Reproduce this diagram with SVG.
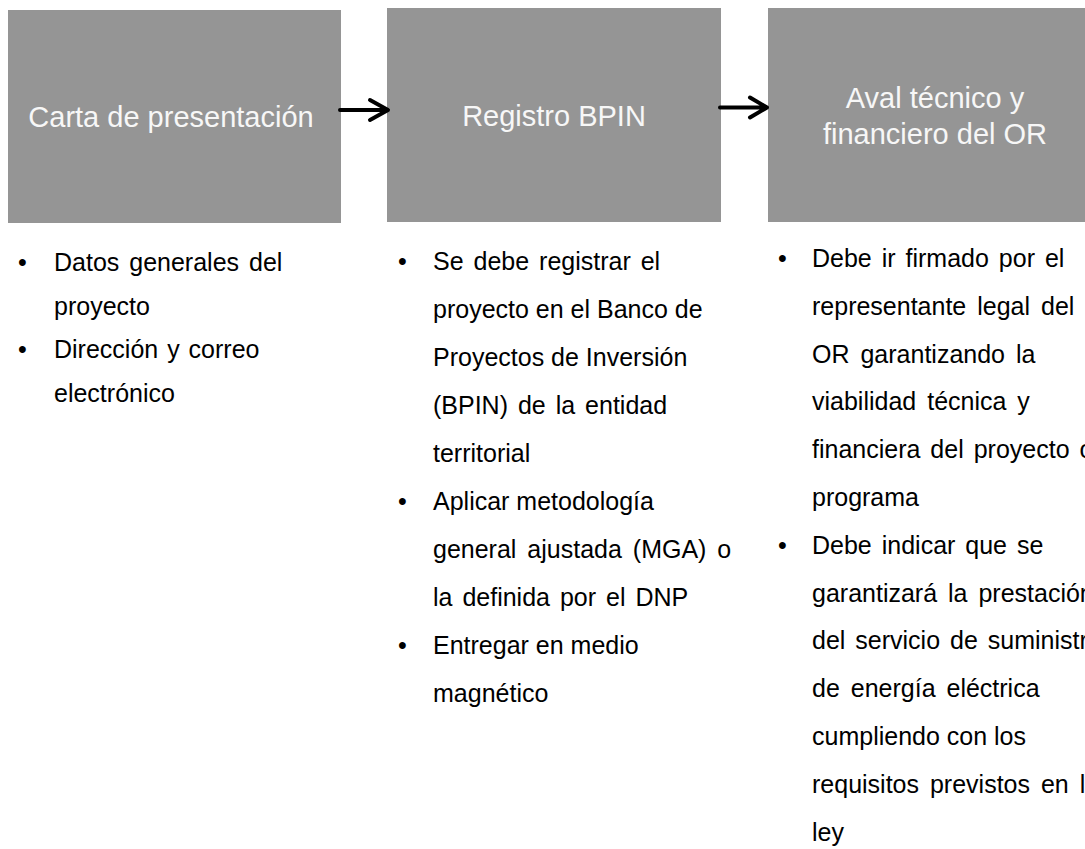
<svg xmlns="http://www.w3.org/2000/svg" width="1085" height="849" viewBox="0 0 1085 849">
<style>
.box{fill:#959595}
.bt{font-family:"Liberation Sans",Arial,sans-serif;font-size:29px;fill:#f7f7f7;text-anchor:middle}
.tx{font-family:"Liberation Sans",Arial,sans-serif;fill:#000}
.c1{font-size:25px}
.c2{font-size:25px}
.c3{font-size:25px}
.arr{stroke:#000;stroke-width:4;fill:none;stroke-linecap:round;stroke-linejoin:round}
</style>
<rect width="1085" height="849" fill="#fff"/>
<g id="node-carta">
<rect class="box" x="8" y="10" width="333" height="213"/>
<text class="bt" x="171" y="127">Carta de presentación</text>
</g>
<g id="node-bpin">
<rect class="box" x="387" y="8" width="334" height="214"/>
<text class="bt" x="554" y="126">Registro BPIN</text>
</g>
<g id="node-aval">
<rect class="box" x="768" y="8" width="334" height="214"/>
<text class="bt" x="935" y="108">Aval técnico y</text>
<text class="bt" x="935" y="144">financiero del OR</text>
</g>
<g id="connectors">
<path class="arr" d="M340 110 H387 M370 100 L388 110 L370 120"/>
<path class="arr" d="M720 107.5 H766 M750 97.5 L767 107.5 L750 117.5"/>
</g>
<g id="list-carta" class="tx c1">
<text x="18" y="271">•</text>
<text x="54" y="271" word-spacing="3">Datos generales del</text>
<text x="54" y="315">proyecto</text>
<text x="18" y="358">•</text>
<text x="54" y="358" word-spacing="2">Dirección y correo</text>
<text x="54" y="402">electrónico</text>
</g>
<g id="list-bpin" class="tx c2">
<text x="398" y="270">•</text>
<text x="433" y="270" word-spacing="3">Se debe registrar el</text>
<text x="433" y="318">proyecto en el Banco de</text>
<text x="433" y="366">Proyectos de Inversión</text>
<text x="433" y="414" word-spacing="3">(BPIN) de la entidad</text>
<text x="433" y="462">territorial</text>
<text x="398" y="510">•</text>
<text x="433" y="510">Aplicar metodología</text>
<text x="433" y="558" word-spacing="4">general  ajustada (MGA) o</text>
<text x="433" y="606" word-spacing="3">la definida por el DNP</text>
<text x="398" y="654">•</text>
<text x="433" y="654">Entregar en medio</text>
<text x="433" y="702">magnético</text>
</g>
<g id="list-aval" class="tx c3">
<text x="778" y="267">•</text>
<text x="812" y="267" word-spacing="3">Debe ir firmado por el</text>
<text x="812" y="314.8" word-spacing="4">representante legal del</text>
<text x="812" y="362.6" word-spacing="4">OR garantizando la</text>
<text x="812" y="410.4" word-spacing="4">viabilidad técnica y</text>
<text x="812" y="458.2" word-spacing="3">financiera del proyecto o</text>
<text x="812" y="506">programa</text>
<text x="778" y="553.8">•</text>
<text x="812" y="553.8" word-spacing="3">Debe indicar que se</text>
<text x="812" y="601.6" word-spacing="4">garantizará la prestación</text>
<text x="812" y="649.4" word-spacing="3">del servicio de suministro</text>
<text x="812" y="697.2" word-spacing="4">de energía eléctrica</text>
<text x="812" y="745">cumpliendo con los</text>
<text x="812" y="792.8" word-spacing="4">requisitos previstos en la</text>
<text x="812" y="840.6">ley</text>
</g>
</svg>
